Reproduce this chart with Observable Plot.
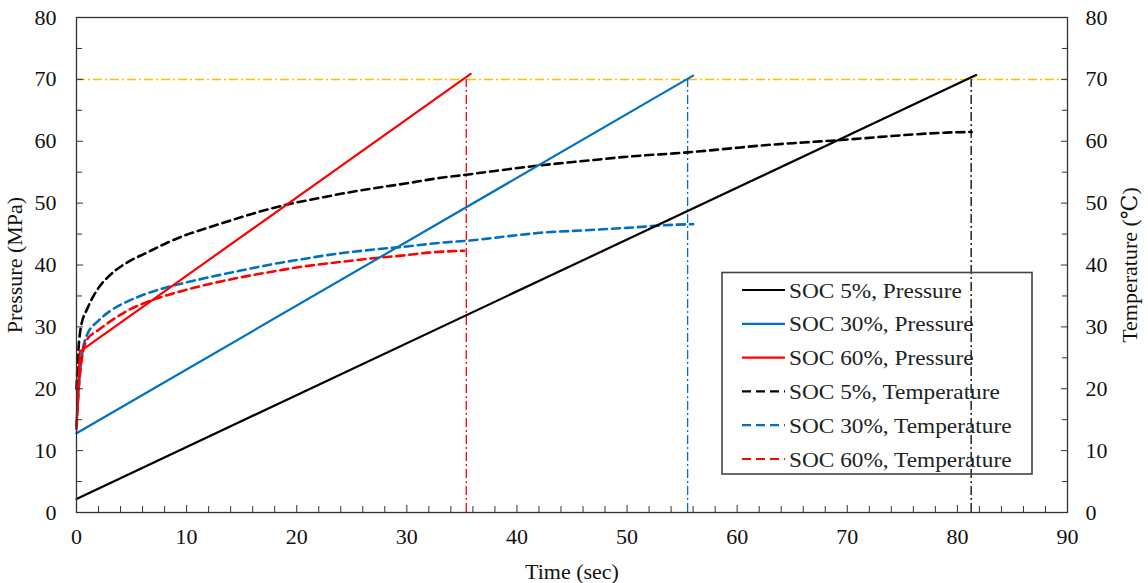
<!DOCTYPE html>
<html>
<head>
<meta charset="utf-8">
<script src="https://cdn.jsdelivr.net/npm/d3@7"></script>
<script src="https://cdn.jsdelivr.net/npm/@observablehq/plot@0.6"></script>
<style>
  html, body { margin: 0; padding: 0; background: #fff; }
  #chart svg { display: block; }
  #chart svg text { font-family: 'Liberation Serif', 'Times New Roman', 'DejaVu Serif', serif !important; }
</style>
</head>
<body>
<div id="chart"></div>
<script>
// ---------- data ----------
const xTicks = [0, 10, 20, 30, 40, 50, 60, 70, 80, 90];
const yTicks = [0, 10, 20, 30, 40, 50, 60, 70, 80];

const seriesNames = ["SOC 5%", "SOC 30%", "SOC 60%"];
const seriesColors = ["#000000", "#0070C0", "#FF0000"];

// Pressure (MPa) vs time (sec)
const p5Time  = [0, 81.7];
const p5Value = [2.2, 70.7];
const p30Time  = [0, 56.0];
const p30Value = [12.8, 70.6];
const p60Time  = [0, 0.3, 35.8];
const p60Value = [14, 26, 70.9];

// Temperature (°C) vs time (sec)
const t5Time  = [0, 0.1, 0.4, 1, 2, 3, 4.5, 6.4, 8, 10, 11.9, 14, 16, 19.2, 22, 24, 27, 30, 33.1, 35, 38, 42.1, 46, 50, 55.5, 60.3, 62.1, 66, 69.4, 73, 76, 79, 81.3];
const t5Value = [20, 24, 30, 33, 36.3, 38.3, 40.3, 42, 43.4, 44.9, 46, 47.2, 48.3, 49.8, 50.8, 51.5, 52.4, 53.2, 54.1, 54.5, 55.2, 56.1, 56.8, 57.5, 58.2, 59, 59.3, 59.8, 60.2, 60.7, 61.1, 61.4, 61.5];
const t30Time  = [0, 0.2, 0.5, 0.9, 2, 3, 4.5, 5.8, 8, 10, 12, 14.9, 18, 20, 24, 27, 30, 33.1, 36, 38, 42.1, 46, 50, 54.2, 56];
const t30Value = [14, 20, 25.5, 28.5, 31, 32.5, 34, 35, 36.3, 37.2, 38, 39.1, 40.2, 40.8, 41.9, 42.5, 43, 43.6, 44, 44.4, 45.2, 45.6, 46, 46.5, 46.6];
const t60Time  = [0, 0.2, 0.5, 0.9, 2, 3, 4.5, 5.8, 8, 10, 12, 14.9, 18, 20, 24, 27, 30, 32, 35.2];
const t60Value = [13.5, 20, 25, 27.8, 29.5, 30.8, 32.5, 33.6, 35, 36, 36.9, 38, 39, 39.6, 40.5, 41.1, 41.6, 42, 42.3];

// end-of-test markers: vertical dash-dot lines, and the 70 MPa limit
const endTimes = [81.25, 55.5, 35.4];
const endColors = ["#000000", "#0070C0", "#FF0000"];
const limitPressure = 70;

const legendLabels = [
  "SOC 5%, Pressure", "SOC 30%, Pressure", "SOC 60%, Pressure",
  "SOC 5%, Temperature", "SOC 30%, Temperature", "SOC 60%, Temperature"
];

// ---------- build tables ----------
const zip = (ts, vs) => ts.map((t, i) => ({t, v: vs[i]}));
const pressure = [zip(p5Time, p5Value), zip(p30Time, p30Value), zip(p60Time, p60Value)];
const temperature = [zip(t5Time, t5Value), zip(t30Time, t30Value), zip(t60Time, t60Value)];
const endLines = endTimes.map((t, i) => ({t, color: endColors[i]}));

const minorX = d3.range(0, 91, 2).filter(d => d % 10 !== 0);
const minorY = d3.range(0, 81, 5).filter(d => d % 10 !== 0);

const FONT = "'Liberation Serif', 'Times New Roman', 'DejaVu Serif', serif";
const AX = "#333";

const marks = [
  Plot.ruleY([limitPressure], {stroke: "#FFC000", strokeWidth: 1.5, strokeDasharray: "9,3,2,3"}),
  ...endLines.map(d => Plot.ruleX([d], {x: "t", y1: 0, y2: limitPressure, stroke: d.color, strokeWidth: 1.3, strokeDasharray: "9,3,2,3"})),
  ...temperature.map((data, i) => Plot.line(data, {x: "t", y: "v", stroke: seriesColors[i], strokeWidth: 2.6, strokeDasharray: "8,5", curve: "monotone-x"})),
  ...pressure.map((data, i) => Plot.line(data, {x: "t", y: "v", stroke: seriesColors[i], strokeWidth: 2.2})),
  Plot.frame({stroke: AX, strokeWidth: 1.3}),
  // tick labels + axis titles
  Plot.axisX({ticks: xTicks, tickSize: 0, tickPadding: 16, tickFormat: d => d, label: "Time (sec)", labelArrow: "none", labelAnchor: "center", labelOffset: 66, color: "#111"}),
  Plot.axisY({anchor: "left", ticks: yTicks, tickSize: 0, tickPadding: 20, tickFormat: d => d, label: "Pressure (MPa)", labelArrow: "none", labelAnchor: "center", labelOffset: 70, color: "#111"}),
  Plot.axisY({anchor: "right", ticks: yTicks, tickSize: 0, tickPadding: 18, tickFormat: d => d, label: "Temperature (\u2103)", labelArrow: "none", labelAnchor: "center", labelOffset: 69, color: "#111"}),
  // inward ticks
  Plot.axisX({ticks: xTicks, tickSize: 7, dy: -7, tickFormat: () => "", label: null, stroke: AX}),
  Plot.axisX({ticks: minorX, tickSize: 6, dy: -6, tickFormat: () => "", label: null, stroke: AX}),
  Plot.axisY({anchor: "left", ticks: yTicks, tickSize: 7, dx: 7, tickFormat: () => "", label: null, stroke: AX}),
  Plot.axisY({anchor: "left", ticks: minorY, tickSize: 6, dx: 6, tickFormat: () => "", label: null, stroke: AX}),
  Plot.axisY({anchor: "right", ticks: yTicks, tickSize: 7, dx: -7, tickFormat: () => "", label: null, stroke: AX}),
  Plot.axisY({anchor: "right", ticks: minorY, tickSize: 6, dx: -6, tickFormat: () => "", label: null, stroke: AX})
];

const chart = Plot.plot({
  width: 1148,
  height: 583,
  marginLeft: 76,
  marginRight: 81,
  marginTop: 17,
  marginBottom: 71,
  style: {fontFamily: FONT, fontSize: "22px", background: "#fff", color: "#111"},
  x: {domain: [0, 90]},
  y: {domain: [0, 80]},
  marks
});

// strip any label arrows, in case the Plot build adds them
d3.select(chart).selectAll("text").each(function() {
  const t = this.textContent;
  if (/[\u2190-\u2193]/.test(t)) this.textContent = t.replace(/\s*[\u2190-\u2193]\s*/g, "");
});

// ---------- legend (drawn inside the plot area) ----------
const svg = d3.select(chart);
const lg = svg.append("g").attr("class", "legend").attr("font-size", 22).attr("text-anchor", "start");
const box = {x: 722, y: 272.5, w: 310, h: 201.5};
lg.append("rect").attr("x", box.x).attr("y", box.y).attr("width", box.w).attr("height", box.h)
  .attr("fill", "none").attr("stroke", "#444").attr("stroke-width", 1.6);
const rowY0 = 290, rowStep = 33.8;
legendLabels.forEach((label, i) => {
  const y = rowY0 + i * rowStep;
  const c = seriesColors[i % 3];
  lg.append("line").attr("x1", 742).attr("x2", 785).attr("y1", y).attr("y2", y)
    .attr("stroke", c).attr("stroke-width", 2.2)
    .attr("stroke-dasharray", i >= 3 ? "9,5" : null);
  lg.append("text").attr("x", 789).attr("y", y).attr("dy", "0.35em").attr("text-anchor", "start")
    .attr("transform", `translate(789,0) scale(1.06,1) translate(-789,0)`)
    .attr("fill", "#222").text(label);
});

document.getElementById("chart").appendChild(chart);
</script>
</body>
</html>
